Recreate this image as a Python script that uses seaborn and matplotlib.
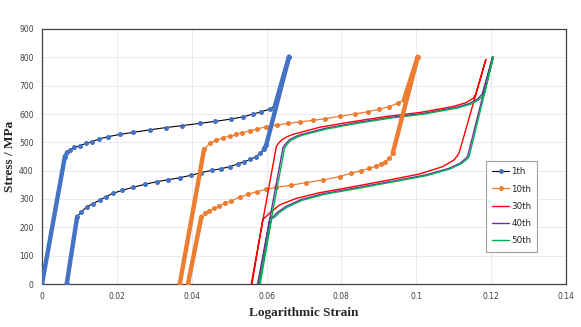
import numpy as np
import pandas as pd
import matplotlib
matplotlib.use('Agg')
import matplotlib.pyplot as plt
from matplotlib.lines import Line2D
import seaborn as sns

# strain / stress paths (each cycle drawn as one polyline)
x_1th = [0, 0.0061, 0.0068, 0.0075, 0.0085, 0.0101, 0.0117, 0.0133, 0.0153, 0.0177, 0.0208,
         0.0243, 0.0288, 0.033, 0.0375, 0.0421, 0.0463, 0.0504, 0.0537, 0.0565, 0.0586,
         0.0608, 0.0622, 0.066, 0.0599, 0.0592, 0.0583, 0.0571, 0.0557, 0.0541, 0.0524,
         0.0501, 0.0479, 0.0453, 0.0425, 0.0399, 0.0368, 0.0337, 0.0306, 0.0275, 0.0243,
         0.0215, 0.019, 0.017, 0.0155, 0.0136, 0.0119, 0.0105, 0.0094, 0.0066]
y_1th = [0, 449, 465, 474, 482, 488, 496, 502, 512, 520, 528,
         535, 544, 552, 559, 567, 574, 582, 590, 600, 608,
         617, 628, 802, 490, 475, 461, 449, 440, 432, 424,
         414, 407, 401, 393, 384, 375, 368, 361, 352, 341,
         331, 320, 308, 296, 284, 271, 255, 238, 0]

x_10th = [0.0368, 0.0433, 0.0448, 0.0466, 0.0483, 0.0501, 0.0519, 0.0535, 0.0555, 0.0574,
          0.0599, 0.0627, 0.0657, 0.069, 0.0725, 0.0755, 0.0795, 0.0835, 0.087, 0.0901,
          0.0928, 0.095, 0.0967, 0.1004, 0.0937, 0.0928, 0.0917, 0.0906, 0.0892, 0.0875,
          0.0853, 0.0826, 0.0795, 0.075, 0.0706, 0.0666, 0.0626, 0.0599, 0.0574, 0.055,
          0.0528, 0.0506, 0.0488, 0.0473, 0.0459, 0.0446, 0.0435, 0.0426, 0.039]
y_10th = [0, 475, 497, 508, 516, 522, 528, 534, 540, 547,
          555, 561, 567, 572, 578, 583, 592, 600, 608, 617,
          626, 638, 650, 802, 461, 444, 432, 424, 416, 408,
          400, 391, 379, 367, 358, 349, 341, 334, 326, 317,
          306, 294, 285, 275, 267, 259, 249, 238, 0]

x_30th = [0.0559, 0.0626, 0.0632, 0.0642, 0.0655, 0.067, 0.0741, 0.083, 0.0919, 0.1008,
          0.1097, 0.1133, 0.1152, 0.1159, 0.1186, 0.1116, 0.1113, 0.1101, 0.107, 0.1008,
          0.0919, 0.083, 0.0741, 0.0679, 0.0635, 0.0612, 0.0603, 0.059, 0.0561]
y_30th = [0, 485, 497, 510, 520, 528, 553, 573, 591, 605,
          626, 640, 655, 670, 793, 470, 459, 438, 414, 388,
          365, 343, 322, 302, 279, 255, 243, 228, 0]

x_40th = [0.0576, 0.0644, 0.0651, 0.0661, 0.0675, 0.069, 0.0755, 0.0842, 0.093, 0.1018,
          0.1105, 0.1142, 0.1163, 0.1176, 0.1204, 0.1137, 0.1131, 0.1118, 0.1087, 0.1022,
          0.0932, 0.0842, 0.0752, 0.0692, 0.0652, 0.0628, 0.062, 0.0609, 0.0579]
y_40th = [0, 482, 495, 509, 519, 527, 549, 570, 588, 602,
          623, 637, 652, 670, 802, 450, 442, 427, 408, 384,
          362, 340, 319, 298, 274, 252, 240, 231, 0]

x_50th = [0.058, 0.0648, 0.0655, 0.0665, 0.068, 0.0695, 0.076, 0.0846, 0.0934, 0.1022,
          0.1109, 0.1146, 0.1167, 0.1181, 0.1206, 0.1141, 0.1135, 0.1121, 0.109, 0.1026,
          0.0936, 0.0846, 0.0756, 0.0696, 0.0656, 0.0632, 0.0624, 0.0613, 0.0583]
y_50th = [0, 479, 493, 507, 517, 525, 547, 568, 586, 600,
          621, 635, 650, 668, 802, 449, 440, 425, 406, 382,
          360, 338, 317, 296, 272, 250, 238, 229, 0]

cycles = ['1th', '10th', '30th', '40th', '50th']
xticks = [0, 0.02, 0.04, 0.06, 0.08, 0.1, 0.12, 0.14]
xtick_labels = ['0', '0.02', '0.04', '0.06', '0.08', '0.1', '0.12', '0.14']
yticks = list(range(0, 1000, 100))

sns.set_theme(style='whitegrid')
plt.rcParams['font.family'] = ['DejaVu Sans']

fig = plt.figure(figsize=(5.81, 3.27), dpi=100)
ax = fig.add_axes([42/581, 43/327, 524/581, 255/327])

blue = '#4472C4'
orange = '#ED7D31'
styles = {
    '1th':  dict(line='black', mark=blue, marker='o', lw=0.8),
    '10th': dict(line=orange, mark=orange, marker='o', lw=0.9),
    '30th': dict(line='#FF0000', mark=None, marker=None, lw=1.0),
    '40th': dict(line='#7030A0', mark=None, marker=None, lw=1.0),
    '50th': dict(line='#00B050', mark=None, marker=None, lw=1.0),
}
data = {'1th': (x_1th, y_1th), '10th': (x_10th, y_10th), '30th': (x_30th, y_30th),
        '40th': (x_40th, y_40th), '50th': (x_50th, y_50th)}

for name in cycles:
    xs, ys = data[name]
    st = styles[name]
    df = pd.DataFrame({'strain': xs, 'stress': ys})
    sns.lineplot(data=df, x='strain', y='stress', sort=False, estimator=None, ax=ax,
                 color=st['line'], lw=st['lw'], marker=st['marker'],
                 markersize=2.8 if st['marker'] else None,
                 markerfacecolor=st['mark'], markeredgecolor=st['mark'], zorder=3)
    if st['marker']:
        # the elastic parts carry densely packed markers in the original -> thick band
        xa, ya = np.array(xs), np.array(ys)
        slope = np.abs(np.diff(ya) / np.diff(xa))
        for i in np.where(slope > 20000)[0]:
            ax.plot(xa[i:i+2], ya[i:i+2], color=st['mark'], lw=3.2,
                    solid_capstyle='round', zorder=4)

ax.set_xlim(0, 0.14)
ax.set_ylim(0, 900)
ax.set_xticks(xticks)
ax.set_xticklabels(xtick_labels)
ax.set_yticks(yticks)
ax.tick_params(axis='both', length=0, labelsize=5.5, labelcolor='#404040', pad=6)
ax.grid(True, color='#E9E9F0', lw=0.7)
for sp in ax.spines.values():
    sp.set_color('#404040')
    sp.set_linewidth(0.9)

ax.set_xlabel('Logarithmic Strain', fontsize=9.5, fontweight='bold', family='Liberation Serif')
ax.set_ylabel('Stress / MPa', fontsize=9.5, fontweight='bold', family='Liberation Serif')
ax.xaxis.set_label_coords(0.5, -0.09)
ax.yaxis.set_label_coords(-0.05, 0.5)

handles = []
for name in cycles:
    st = styles[name]
    handles.append(Line2D([0], [0], color=st['line'], lw=st['lw'], marker=st['marker'],
                          markersize=2.5, markerfacecolor=st['mark'],
                          markeredgecolor=st['mark']))
leg = ax.legend(handles, cycles, loc='upper left', bbox_to_anchor=(0.847, 0.482),
                fontsize=6.3, frameon=True, fancybox=False, framealpha=1,
                edgecolor='#A0A0A0', handlelength=2.0, handletextpad=0.2,
                labelspacing=0.95, borderpad=0.7, borderaxespad=0)
leg.get_frame().set_linewidth(0.8)

fig.savefig('out.png', dpi=100)
